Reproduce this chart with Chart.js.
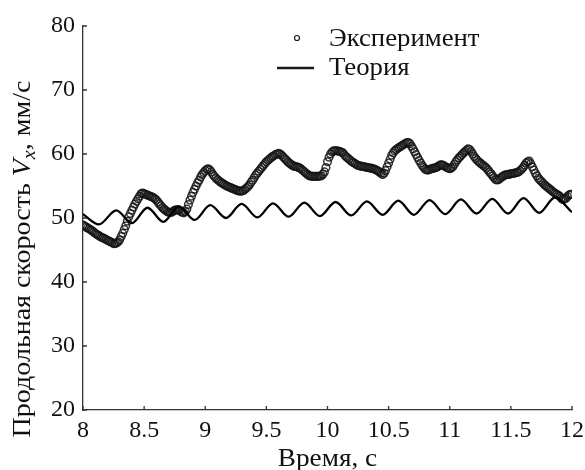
<!DOCTYPE html>
<html><head><meta charset="utf-8">
<script src="https://cdn.jsdelivr.net/npm/chart.js@4.4.1/dist/chart.umd.min.js"></script>
<style>html,body{margin:0;padding:0;background:#fff}canvas{display:block}</style>
</head><body>
<canvas id="c" width="585" height="470"></canvas>
<script>
// ---- data ----
const expTime = [
  8.0000,8.0125,8.0250,8.0375,8.0500,8.0625,8.0750,8.0875,
  8.1000,8.1125,8.1250,8.1375,8.1500,8.1625,8.1750,8.1875,
  8.2000,8.2125,8.2250,8.2375,8.2500,8.2625,8.2750,8.2875,
  8.3000,8.3125,8.3250,8.3375,8.3500,8.3625,8.3750,8.3875,
  8.4000,8.4125,8.4250,8.4375,8.4500,8.4625,8.4750,8.4875,
  8.5000,8.5125,8.5250,8.5375,8.5500,8.5625,8.5750,8.5875,
  8.6000,8.6125,8.6250,8.6375,8.6500,8.6625,8.6750,8.6875,
  8.7000,8.7125,8.7250,8.7375,8.7500,8.7625,8.7750,8.7875,
  8.8000,8.8125,8.8250,8.8375,8.8500,8.8625,8.8750,8.8875,
  8.9000,8.9125,8.9250,8.9375,8.9500,8.9625,8.9750,8.9875,
  9.0000,9.0125,9.0250,9.0375,9.0500,9.0625,9.0750,9.0875,
  9.1000,9.1125,9.1250,9.1375,9.1500,9.1625,9.1750,9.1875,
  9.2000,9.2125,9.2250,9.2375,9.2500,9.2625,9.2750,9.2875,
  9.3000,9.3125,9.3250,9.3375,9.3500,9.3625,9.3750,9.3875,
  9.4000,9.4125,9.4250,9.4375,9.4500,9.4625,9.4750,9.4875,
  9.5000,9.5125,9.5250,9.5375,9.5500,9.5625,9.5750,9.5875,
  9.6000,9.6125,9.6250,9.6375,9.6500,9.6625,9.6750,9.6875,
  9.7000,9.7125,9.7250,9.7375,9.7500,9.7625,9.7750,9.7875,
  9.8000,9.8125,9.8250,9.8375,9.8500,9.8625,9.8750,9.8875,
  9.9000,9.9125,9.9250,9.9375,9.9500,9.9625,9.9750,9.9875,
  10.0000,10.0125,10.0250,10.0375,10.0500,10.0625,10.0750,10.0875,
  10.1000,10.1125,10.1250,10.1375,10.1500,10.1625,10.1750,10.1875,
  10.2000,10.2125,10.2250,10.2375,10.2500,10.2625,10.2750,10.2875,
  10.3000,10.3125,10.3250,10.3375,10.3500,10.3625,10.3750,10.3875,
  10.4000,10.4125,10.4250,10.4375,10.4500,10.4625,10.4750,10.4875,
  10.5000,10.5125,10.5250,10.5375,10.5500,10.5625,10.5750,10.5875,
  10.6000,10.6125,10.6250,10.6375,10.6500,10.6625,10.6750,10.6875,
  10.7000,10.7125,10.7250,10.7375,10.7500,10.7625,10.7750,10.7875,
  10.8000,10.8125,10.8250,10.8375,10.8500,10.8625,10.8750,10.8875,
  10.9000,10.9125,10.9250,10.9375,10.9500,10.9625,10.9750,10.9875,
  11.0000,11.0125,11.0250,11.0375,11.0500,11.0625,11.0750,11.0875,
  11.1000,11.1125,11.1250,11.1375,11.1500,11.1625,11.1750,11.1875,
  11.2000,11.2125,11.2250,11.2375,11.2500,11.2625,11.2750,11.2875,
  11.3000,11.3125,11.3250,11.3375,11.3500,11.3625,11.3750,11.3875,
  11.4000,11.4125,11.4250,11.4375,11.4500,11.4625,11.4750,11.4875,
  11.5000,11.5125,11.5250,11.5375,11.5500,11.5625,11.5750,11.5875,
  11.6000,11.6125,11.6250,11.6375,11.6500,11.6625,11.6750,11.6875,
  11.7000,11.7125,11.7250,11.7375,11.7500,11.7625,11.7750,11.7875,
  11.8000,11.8125,11.8250,11.8375,11.8500,11.8625,11.8750,11.8875,
  11.9000,11.9125,11.9250,11.9375,11.9500,11.9625,11.9750,11.9875,
  12.0000
];
const expValues = [
  48.9,48.75,48.6,48.45,48.3,48.15,48.0,47.8,
  47.6,47.45,47.3,47.15,47.0,46.9,46.8,46.65,
  46.5,46.4,46.3,46.15,46.0,46.0,46.1,46.3,
  46.6,47.1,47.6,48.2,48.8,49.5,50.2,50.7,
  51.2,51.7,52.2,52.6,53.0,53.4,53.8,53.9,
  53.8,53.7,53.6,53.5,53.4,53.3,53.2,53.0,
  52.8,52.5,52.2,51.9,51.6,51.4,51.2,51.0,
  50.9,50.85,50.9,51.05,51.2,51.3,51.3,51.2,
  51.0,50.9,50.8,51.0,51.4,52.1,52.8,53.4,
  54.0,54.5,55.0,55.5,55.9,56.4,56.8,57.1,
  57.4,57.6,57.7,57.5,57.2,56.8,56.5,56.2,
  56.0,55.8,55.6,55.45,55.3,55.15,55.0,54.9,
  54.8,54.7,54.6,54.5,54.4,54.3,54.2,54.2,
  54.2,54.3,54.5,54.7,54.9,55.2,55.6,55.9,
  56.3,56.7,57.0,57.3,57.6,57.9,58.2,58.5,
  58.8,59.0,59.2,59.4,59.6,59.75,59.9,60.0,
  60.1,60.0,59.8,59.55,59.3,59.05,58.8,58.6,
  58.4,58.25,58.1,58.05,58.0,57.9,57.8,57.6,
  57.4,57.2,57.0,56.8,56.6,56.55,56.5,56.5,
  56.5,56.5,56.5,56.55,56.6,56.85,57.2,57.9,
  58.8,59.5,60.0,60.3,60.5,60.5,60.5,60.45,
  60.4,60.3,60.2,59.9,59.6,59.4,59.2,59.0,
  58.8,58.65,58.5,58.35,58.2,58.15,58.1,58.05,
  58.0,57.95,57.9,57.85,57.8,57.75,57.7,57.6,
  57.5,57.35,57.2,57.0,56.8,57.0,57.4,58.0,
  58.6,59.2,59.8,60.2,60.5,60.7,60.9,61.05,
  61.2,61.35,61.5,61.65,61.8,61.8,61.6,61.2,
  60.8,60.35,59.9,59.45,59.0,58.6,58.2,57.9,
  57.6,57.5,57.5,57.6,57.7,57.75,57.8,57.9,
  58.0,58.15,58.3,58.3,58.2,58.05,57.9,57.8,
  57.7,57.8,58.0,58.4,58.8,59.1,59.4,59.65,
  59.9,60.15,60.4,60.6,60.8,60.7,60.4,60.0,
  59.6,59.3,59.0,58.8,58.6,58.4,58.2,58.0,
  57.8,57.5,57.2,56.9,56.6,56.3,56.0,55.95,
  56.0,56.2,56.4,56.55,56.7,56.75,56.8,56.85,
  56.9,56.95,57.0,57.05,57.1,57.2,57.4,57.6,
  57.9,58.25,58.6,58.8,58.9,58.5,58.0,57.5,
  57.0,56.6,56.2,55.95,55.7,55.45,55.2,55.0,
  54.8,54.6,54.4,54.2,54.0,53.85,53.7,53.55,
  53.4,53.1,52.9,52.95,53.1,53.35,53.6,53.7,
  53.7
];
const theoryTime = [
  8.000,8.130,8.272,8.400,8.528,8.657,8.785,8.913,9.041,9.169,
  9.297,9.426,9.554,9.682,9.810,9.938,10.066,10.194,10.322,10.451,
  10.579,10.707,10.835,10.963,11.091,11.220,11.348,11.476,11.604,11.732,
  11.860,12.000
];
const theoryValues = [
  50.6,49.0,51.2,49.2,51.6,49.4,51.8,49.7,52.0,50.0,
  52.2,50.1,52.3,50.2,52.4,50.3,52.5,50.4,52.6,50.5,
  52.7,50.5,52.8,50.6,52.9,50.7,53.0,50.7,53.1,50.8,
  53.2,50.9
];
const xTicks = [8, 8.5, 9, 9.5, 10, 10.5, 11, 11.5, 12];
const yTicks = [20, 30, 40, 50, 60, 70, 80];
const seriesNames = ['Эксперимент', 'Теория'];
const xTitle = 'Время, с';
const yTitleParts = ['Продольная скорость ', 'V', 'x', ', мм/с'];

// ---- styling ----
const FONT = '"Liberation Serif", "DejaVu Serif", serif';
const FS = 24;
const TFS = 25;
const INK = '#111';
const AXIS = '#333';

function wideText(ctx, text, x, y, align, stretch) {
  ctx.save();
  const w = ctx.measureText(text).width * stretch;
  const sx = align === 'center' ? x - w / 2 : x;
  ctx.translate(sx, y);
  ctx.scale(stretch, 1);
  ctx.textAlign = 'left';
  ctx.fillText(text, 0, 0);
  ctx.restore();
  return w;
}

const decor = {
  id: 'decor',
  beforeDatasetsDraw(chart) {
    const {ctx, chartArea: a, scales: {x, y}} = chart;
    ctx.save();
    ctx.strokeStyle = AXIS; ctx.lineWidth = 1.3;
    ctx.beginPath();
    xTicks.forEach(v => { const px = x.getPixelForValue(v); ctx.moveTo(px, a.bottom); ctx.lineTo(px, a.bottom - 4); });
    yTicks.forEach(v => { const py = y.getPixelForValue(v); ctx.moveTo(a.left, py); ctx.lineTo(a.left + 4, py); });
    ctx.stroke();
    ctx.restore();
  },
  afterDraw(chart) {
    const {ctx, chartArea: a} = chart;
    ctx.save();
    ctx.fillStyle = INK;
    ctx.strokeStyle = '#1a1a1a';
    // legend
    ctx.font = `${TFS}px ${FONT}`;
    ctx.textBaseline = 'middle';
    ctx.beginPath(); ctx.lineWidth = 1.2;
    ctx.arc(297, 38, 2.5, 0, Math.PI * 2); ctx.stroke();
    wideText(ctx, seriesNames[0], 329, 39, 'left', 1.07);
    ctx.beginPath(); ctx.lineWidth = 2.3;
    ctx.moveTo(277, 68); ctx.lineTo(314, 68); ctx.stroke();
    wideText(ctx, seriesNames[1], 329, 68, 'left', 1.07);
    // x title
    ctx.textBaseline = 'alphabetic';
    wideText(ctx, xTitle, (a.left + a.right) / 2, 466, 'center', 1.09);
    // y title (rotated, italic V with subscript x)
    const ST = 1.12;
    const fN = `${TFS}px ${FONT}`, fI = `italic ${TFS}px ${FONT}`, fS = `italic 18px ${FONT}`;
    const segs = [[yTitleParts[0], fN, 0], [yTitleParts[1], fI, 0], [yTitleParts[2], fS, 5], [yTitleParts[3], fN, 0]];
    let total = 0;
    segs.forEach(s => { ctx.font = s[1]; s.push(ctx.measureText(s[0]).width * ST); total += s[3]; });
    ctx.translate(30, 259);
    ctx.rotate(-Math.PI / 2);
    let cx = -total / 2;
    segs.forEach(s => { ctx.font = s[1]; wideText(ctx, s[0], cx, s[2], 'left', ST); cx += s[3]; });
    ctx.restore();
  }
};

const tickFont = { family: FONT, size: FS };

new Chart(document.getElementById('c'), {
  type: 'scatter',
  data: {
    datasets: [
      {
        label: seriesNames[0],
        data: expTime.map((t, i) => ({ x: t, y: expValues[i] })),
        showLine: false,
        pointStyle: 'circle',
        pointRadius: 3.8,
        pointBorderWidth: 1.5,
        borderColor: 'rgba(20,20,20,0.85)',
        backgroundColor: 'rgba(0,0,0,0)',
        order: 2
      },
      {
        label: seriesNames[1],
        data: theoryTime.map((t, i) => ({ x: t, y: theoryValues[i] })),
        showLine: true,
        cubicInterpolationMode: 'monotone',
        pointRadius: 0,
        borderWidth: 2.3,
        borderColor: '#000',
        backgroundColor: '#000',
        order: 1
      }
    ]
  },
  options: {
    responsive: false,
    animation: false,
    devicePixelRatio: 1,
    layout: { padding: { left: 0, right: 13, top: 26, bottom: 0 } },
    plugins: { legend: { display: false }, tooltip: { enabled: false } },
    scales: {
      x: {
        type: 'linear', min: 8, max: 12,
        afterFit: s => { s.height = 60; s.paddingRight = 0; s.paddingLeft = 0; },
        afterBuildTicks: s => { s.ticks = xTicks.map(v => ({ value: v })); },
        grid: { display: false, drawTicks: false },
        border: { display: true, color: AXIS, width: 1.3 },
        ticks: { font: tickFont, color: INK, padding: 6, maxRotation: 0, autoSkip: false, callback: v => String(v) }
      },
      y: {
        type: 'linear', min: 20, max: 80,
        afterFit: s => { s.width = 83; s.paddingTop = 0; s.paddingBottom = 0; },
        afterBuildTicks: s => { s.ticks = yTicks.map(v => ({ value: v })); },
        grid: { display: false, drawTicks: false },
        border: { display: true, color: AXIS, width: 1.3 },
        ticks: { font: tickFont, color: INK, padding: 8, autoSkip: false, callback: v => String(v) }
      }
    }
  },
  plugins: [decor]
});
</script>
</body></html>
